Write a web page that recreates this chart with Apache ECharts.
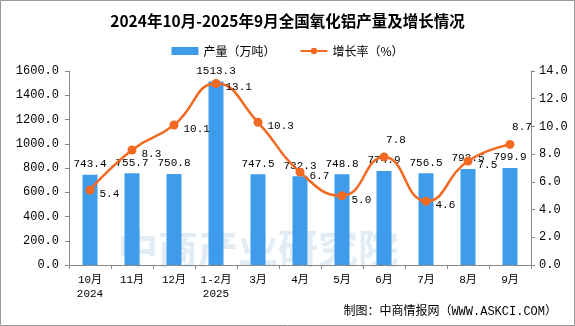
<!DOCTYPE html>
<html><head><meta charset="utf-8">
<script src="https://cdn.jsdelivr.net/npm/echarts@6/dist/echarts.min.js"></script>
<style>html,body{margin:0;padding:0;background:#fff}#c{width:575px;height:326px}</style>
</head><body><div id="c"></div>
<script>
const categories = ['10月\n2024','11月','12月','1-2月\n2025','3月','4月','5月','6月','7月','8月','9月'];
const output = [743.4,755.7,750.8,1513.3,747.5,732.3,748.8,774.9,756.5,792.5,799.9];
const growth = [5.4,8.3,10.1,13.1,10.3,6.7,5.0,7.8,4.6,7.5,8.7];
const labelPos = ['right','right','right','right','right','right','right','top','right','right','top'];
const FONT = '"Liberation Mono","Noto Sans CJK SC",monospace';
const chart = echarts.init(document.getElementById('c'));
chart.setOption({
  animation:false,
  backgroundColor:'#fff',
  title:{text:'2024年10月-2025年9月全国氧化铝产量及增长情况',left:'center',top:8,
    textStyle:{fontSize:15.5,fontWeight:'bold',color:'#000',fontFamily:'"Noto Sans CJK SC",serif'}},
  legend:{top:40,left:'center',itemGap:24,itemWidth:27,itemHeight:8,
    textStyle:{fontSize:12,color:'#000',fontFamily:'"Noto Sans CJK SC"'},
    data:[{name:'产量（万吨）',icon:'rect'},{name:'增长率（%）'}]},
  graphic:[
    {type:'rect',shape:{x:0.5,y:0.5,width:574,height:325},style:{fill:null,stroke:'#999',lineWidth:1},z:100},
    {type:'text',left:118,top:228,style:{text:'中商产业研究院',fontSize:40,fontWeight:'bold',fill:'rgba(170,200,225,0.35)',fontFamily:'"Noto Sans CJK SC"'},z:-1},
    {type:'text',right:18,top:306,style:{text:'制图：中商情报网（WWW.ASKCI.COM）',fontSize:12,fill:'#000',fontFamily:FONT}}
  ],
  grid:{left:69,right:44,top:71,bottom:61},
  xAxis:{type:'category',data:categories,
    axisLine:{lineStyle:{color:'#888'}},axisTick:{show:true,lineStyle:{color:'#888'},length:4},
    axisLabel:{interval:0,color:'#000',fontSize:11,fontFamily:FONT,lineHeight:14,margin:8}},
  yAxis:[
    {type:'value',min:0,max:1600,interval:200,splitLine:{show:false},
     axisLine:{show:true,lineStyle:{color:'#888'}},axisTick:{show:true,length:4,lineStyle:{color:'#888'}},
     axisLabel:{color:'#000',fontSize:12,fontFamily:FONT,formatter:v=>v.toFixed(1),margin:10}},
    {type:'value',min:0,max:14,interval:2,splitLine:{show:false},
     axisLine:{show:true,lineStyle:{color:'#888'}},axisTick:{show:true,length:4,lineStyle:{color:'#888'}},
     axisLabel:{color:'#000',fontSize:12,fontFamily:FONT,formatter:v=>v.toFixed(1),margin:8}}
  ],
  series:[
    {name:'产量（万吨）',type:'bar',data:output,barWidth:15,itemStyle:{color:'#3e9cea'},
     label:{show:true,position:'top',color:'#000',fontSize:11,fontFamily:FONT,formatter:p=>p.value.toFixed(1)}},
    {name:'增长率（%）',type:'line',yAxisIndex:1,smooth:true,data:growth.map((v,i)=>({value:v,label:{position:labelPos[i],offset:labelPos[i]==='top'?[12,-2]:[0,4]}})),
     symbol:'circle',symbolSize:9,lineStyle:{color:'#f26a21',width:2.5},itemStyle:{color:'#f26a21'},
     label:{show:true,color:'#000',fontSize:11,fontFamily:FONT,formatter:p=>p.value.toFixed(1)}}
  ]
});
</script></body></html>
